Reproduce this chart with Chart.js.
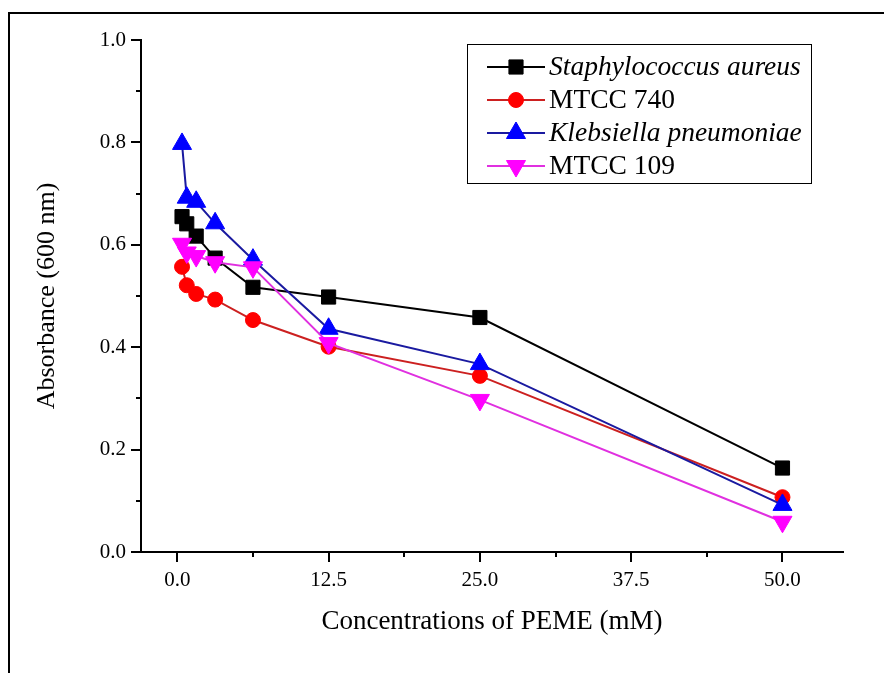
<!DOCTYPE html>
<html>
<head>
<meta charset="utf-8">
<script src="https://cdn.jsdelivr.net/npm/chart.js"></script>
<style>
  html, body { margin: 0; padding: 0; background: #fff; }
  #wrap { position: relative; width: 884px; height: 673px; }
  #frame { position: absolute; left: 8px; top: 12px; right: 0; bottom: 0;
           border-left: 2px solid #000; border-top: 2px solid #000; pointer-events: none; }
</style>
</head>
<body>
<div id="wrap">
  <canvas id="c" width="884" height="673"></canvas>
  <div id="frame"></div>
</div>
<script>
// ---- data ----
const concentrations = [0.39, 0.78, 1.56, 3.125, 6.25, 12.5, 25, 50];
const staphAureus   = [0.655, 0.641, 0.617, 0.574, 0.517, 0.498, 0.458, 0.164];
const mtcc740       = [0.557, 0.521, 0.504, 0.493, 0.453, 0.401, 0.344, 0.107];
const klebPneumo    = [0.797, 0.692, 0.684, 0.642, 0.571, 0.436, 0.367, 0.092];
const mtcc109       = [0.602, 0.585, 0.578, 0.566, 0.556, 0.408, 0.297, 0.059];
const seriesNames   = ['Staphylococcus aureus', 'MTCC 740', 'Klebsiella pneumoniae', 'MTCC 109'];
const seriesItalic  = [true, false, true, false];
const xMajorTicks = [0, 12.5, 25, 37.5, 50];
const xMinorTicks = [6.25, 18.75, 31.25, 43.75];
const yMajorTicks = [0, 0.2, 0.4, 0.6, 0.8, 1.0];
const yMinorTicks = [0.1, 0.3, 0.5, 0.7, 0.9];
const xTitle = 'Concentrations of PEME (mM)';
const yTitle = 'Absorbance (600 nm)';

const FONT = "'Liberation Serif', 'Times New Roman', serif";
const pts = arr => concentrations.map((x, i) => ({x: x, y: arr[i]}));

const styles = [
  {line: '#000000', fill: '#000000', pointStyle: 'rect', radius: 10, rotation: 0},
  {line: '#cc2020', fill: '#ff0000', pointStyle: 'circle', radius: 7.5, rotation: 0},
  {line: '#1a1aa0', fill: '#0000ff', pointStyle: 'triangle', radius: 11, rotation: 0},
  {line: '#e030e0', fill: '#ff00ff', pointStyle: 'triangle', radius: 11, rotation: 180}
];
const seriesData = [staphAureus, mtcc740, klebPneumo, mtcc109];

const datasets = seriesData.map((arr, i) => ({
  label: seriesNames[i],
  data: pts(arr),
  showLine: true,
  borderColor: styles[i].line,
  borderWidth: 2,
  pointBackgroundColor: styles[i].fill,
  pointBorderColor: styles[i].fill,
  pointBorderWidth: 1,
  pointStyle: styles[i].pointStyle,
  pointRadius: styles[i].radius,
  pointRotation: styles[i].rotation,
  tension: 0,
  order: 4 - i
}));

function drawMarker(ctx, st, x, y) {
  if (Chart.helpers && Chart.helpers.drawPoint) {
    ctx.save();
    ctx.fillStyle = st.fill; ctx.strokeStyle = st.fill; ctx.lineWidth = 1;
    Chart.helpers.drawPoint(ctx, {pointStyle: st.pointStyle, radius: st.radius, rotation: st.rotation, borderWidth: 1}, x, y);
    ctx.restore();
  }
}

const minorTicksPlugin = {
  id: 'minorTicks',
  afterDraw(chart) {
    const ctx = chart.ctx, xs = chart.scales.x, ys = chart.scales.y;
    const ca = chart.chartArea;
    ctx.save();
    ctx.strokeStyle = '#000'; ctx.lineWidth = 2;
    xMinorTicks.forEach(v => {
      const px = Math.round(xs.getPixelForValue(v));
      ctx.beginPath(); ctx.moveTo(px, ca.bottom); ctx.lineTo(px, ca.bottom + 5); ctx.stroke();
    });
    yMinorTicks.forEach(v => {
      const py = Math.round(ys.getPixelForValue(v));
      ctx.beginPath(); ctx.moveTo(ca.left, py); ctx.lineTo(ca.left - 5, py); ctx.stroke();
    });
    ctx.restore();
  }
};

const legendPlugin = {
  id: 'customLegend',
  afterDraw(chart) {
    const ctx = chart.ctx;
    const box = {x: 467, y: 44, w: 344, h: 139};
    ctx.save();
    ctx.fillStyle = '#fff';
    ctx.fillRect(box.x, box.y, box.w, box.h);
    ctx.strokeStyle = '#000'; ctx.lineWidth = 1;
    ctx.strokeRect(box.x + 0.5, box.y + 0.5, box.w, box.h);
    const rowY0 = 67, rowStep = 33;
    seriesNames.forEach((name, i) => {
      const y = rowY0 + i * rowStep;
      ctx.strokeStyle = styles[i].line; ctx.lineWidth = 2;
      ctx.beginPath(); ctx.moveTo(487, y); ctx.lineTo(545, y); ctx.stroke();
      drawMarker(ctx, styles[i], 516, y);
      ctx.fillStyle = '#000';
      ctx.font = (seriesItalic[i] ? 'italic ' : '') + '27.5px ' + FONT;
      ctx.textBaseline = 'middle';
      ctx.textAlign = 'left';
      ctx.fillText(name, 549, y + 1);
    });
    ctx.restore();
  }
};

new Chart(document.getElementById('c'), {
  type: 'scatter',
  data: {datasets: datasets},
  options: {
    responsive: false,
    animation: false,
    devicePixelRatio: 1,
    layout: {padding: {top: 40, right: 41, left: 0, bottom: 0}},
    plugins: {legend: {display: false}, tooltip: {enabled: false}},
    scales: {
      x: {
        type: 'linear', min: -3, max: 55,
        afterBuildTicks: s => { s.ticks = xMajorTicks.map(v => ({value: v})); },
        afterFit: s => { s.height = 121; },
        ticks: {callback: v => Number(v).toFixed(1), color: '#000', font: {family: FONT, size: 21}, padding: 6, maxRotation: 0, autoSkip: false},
        grid: {drawOnChartArea: false, drawTicks: true, tickLength: 10, color: '#000', lineWidth: 2},
        border: {color: '#000', width: 2},
        title: {display: true, text: xTitle, color: '#000', font: {family: FONT, size: 27}, padding: {top: 0, bottom: 35}}
      },
      y: {
        type: 'linear', min: 0, max: 1.0,
        afterBuildTicks: s => { s.ticks = yMajorTicks.map(v => ({value: v})); },
        afterFit: s => { s.width = 141; },
        ticks: {callback: v => Number(v).toFixed(1), color: '#000', font: {family: FONT, size: 21}, padding: 5, autoSkip: false},
        grid: {drawOnChartArea: false, drawTicks: true, tickLength: 10, color: '#000', lineWidth: 2},
        border: {color: '#000', width: 2},
        title: {display: true, text: yTitle, color: '#000', font: {family: FONT, size: 26}, padding: {top: 32, bottom: 0}}
      }
    }
  },
  plugins: [minorTicksPlugin, legendPlugin]
});
</script>
</body>
</html>
